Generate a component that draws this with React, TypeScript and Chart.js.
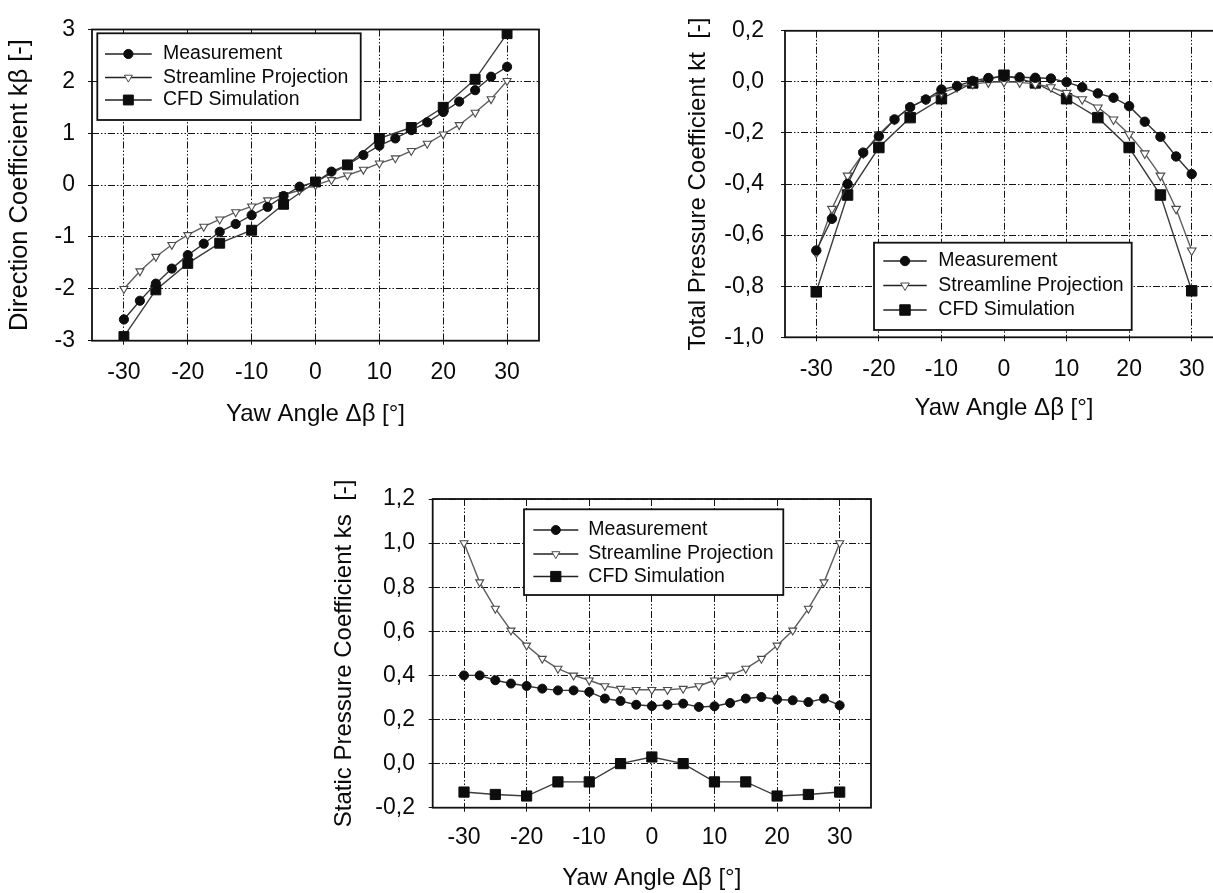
import React, { useEffect, useRef } from "react";
import { Chart, registerables } from "chart.js";

Chart.register(...registerables);

const FONT = '"Liberation Sans", Arial, Helvetica, sans-serif';

// ---------- data ----------
const yawAngles = [-30, -27.5, -25, -22.5, -20, -17.5, -15, -12.5, -10, -7.5, -5, -2.5, 0, 2.5, 5, 7.5, 10, 12.5, 15, 17.5, 20, 22.5, 25, 27.5, 30];
const cfdAngles = [-30, -25, -20, -15, -10, -5, 0, 5, 10, 15, 20, 25, 30];
const xTickValues = [-30, -20, -10, 0, 10, 20, 30];
const seriesNames = ["Measurement", "Streamline Projection", "CFD Simulation"];

// Direction coefficient k_beta
const kBetaMeasurement = [-2.59, -2.23, -1.90, -1.61, -1.35, -1.13, -0.90, -0.75, -0.58, -0.42, -0.21, -0.03, 0.06, 0.26, 0.39, 0.58, 0.76, 0.90, 1.06, 1.21, 1.41, 1.61, 1.83, 2.09, 2.28];
const kBetaStreamline = [-2.00, -1.66, -1.38, -1.15, -0.96, -0.80, -0.66, -0.52, -0.41, -0.29, -0.19, -0.10, 0.0, 0.10, 0.19, 0.30, 0.42, 0.52, 0.66, 0.80, 0.98, 1.16, 1.40, 1.66, 2.01];
const kBetaCfd = [-2.92, -2.02, -1.51, -1.12, -0.87, -0.37, 0.06, 0.39, 0.90, 1.11, 1.50, 2.04, 2.92];
const kBetaTicks = [-3, -2, -1, 0, 1, 2, 3];

// Total pressure coefficient k_t
const ktMeasurement = [-0.66, -0.536, -0.40, -0.277, -0.213, -0.147, -0.099, -0.069, -0.03, -0.016, 0.004, 0.015, 0.02, 0.018, 0.016, 0.013, -0.001, -0.021, -0.045, -0.062, -0.095, -0.156, -0.215, -0.292, -0.361];
const ktStreamline = [-0.67, -0.497, -0.367, -0.28, -0.205, -0.147, -0.10, -0.068, -0.043, -0.021, -0.008, -0.002, 0.0, -0.002, -0.008, -0.021, -0.043, -0.068, -0.10, -0.147, -0.205, -0.28, -0.367, -0.497, -0.66];
const ktCfd = [-0.822, -0.443, -0.257, -0.14, -0.066, -0.004, 0.026, -0.004, -0.066, -0.14, -0.257, -0.443, -0.818];
const ktTicks = [-1.0, -0.8, -0.6, -0.4, -0.2, 0.0, 0.2];

// Static pressure coefficient k_s
const ksMeasurement = [0.40, 0.40, 0.378, 0.363, 0.352, 0.34, 0.332, 0.332, 0.325, 0.295, 0.284, 0.267, 0.261, 0.267, 0.272, 0.257, 0.26, 0.275, 0.295, 0.302, 0.291, 0.287, 0.279, 0.295, 0.264];
const ksStreamline = [1.0, 0.823, 0.703, 0.604, 0.536, 0.476, 0.431, 0.40, 0.378, 0.352, 0.34, 0.335, 0.335, 0.335, 0.34, 0.352, 0.378, 0.40, 0.431, 0.476, 0.536, 0.604, 0.703, 0.823, 1.0];
const ksCfd = [-0.129, -0.14, -0.147, -0.083, -0.083, 0.0, 0.03, 0.0, -0.083, -0.083, -0.147, -0.14, -0.129];
const ksTicks = [-0.2, 0.0, 0.2, 0.4, 0.6, 0.8, 1.0, 1.2];

const xTitle = "Yaw Angle Δβ [°]";

// ---------- layout specs ----------
type Spec = {
  canvas: { left: number; top: number; width: number; height: number };
  area: { left: number; top: number; right: number; bottom: number };
  yMin: number; yMax: number; yTicks: number[]; comma: boolean; yTitle: string; yTitleSize: number;
  meas: number[]; stream: number[]; cfd: number[];
  yLabelRight: number; yTitleX: number; xLabelCenterY: number; xTitleY: number;
  legend: { left: number; top: number; right: number; bottom: number; lineX1: number; lineX2: number; textX: number; rows: number[] };
  rCircle: number; rSquare: number; rTri: number;
};

const specs: Spec[] = [
  {
    canvas: { left: 0, top: 0, width: 570, height: 430 },
    area: { left: 92, top: 29.5, right: 539, bottom: 340.7 },
    yMin: -3, yMax: 3, yTicks: kBetaTicks, comma: false, yTitle: "Direction Coefficient kβ [-]", yTitleSize: 25.5,
    meas: kBetaMeasurement, stream: kBetaStreamline, cfd: kBetaCfd,
    yLabelRight: 75, yTitleX: 20, xLabelCenterY: 373, xTitleY: 414,
    legend: { left: 97.3, top: 33.3, right: 360.7, bottom: 120, lineX1: 105, lineX2: 151.7, textX: 163, rows: [54, 77.5, 100] },
    rCircle: 4.6, rSquare: 7, rTri: 4.6,
  },
  {
    canvas: { left: 660, top: 0, width: 600, height: 430 },
    area: { left: 785, top: 29.3, right: 1223, bottom: 337.3 },
    yMin: -1.0, yMax: 0.2, yTicks: ktTicks, comma: true, yTitle: "Total Pressure Coefficient kt  [-]", yTitleSize: 24,
    meas: ktMeasurement, stream: ktStreamline, cfd: ktCfd,
    yLabelRight: 764, yTitleX: 698.6, xLabelCenterY: 370, xTitleY: 408.6,
    legend: { left: 874, top: 242.7, right: 1131.7, bottom: 330, lineX1: 883.3, lineX2: 926.7, textX: 938.3, rows: [261, 285.5, 310] },
    rCircle: 4.7, rSquare: 7.4, rTri: 5,
  },
  {
    canvas: { left: 320, top: 440, width: 570, height: 460 },
    area: { left: 432.7, top: 499, right: 871, bottom: 807.7 },
    yMin: -0.2, yMax: 1.2, yTicks: ksTicks, comma: true, yTitle: "Static Pressure Coefficient ks  [-]", yTitleSize: 24,
    meas: ksMeasurement, stream: ksStreamline, cfd: ksCfd,
    yLabelRight: 415, yTitleX: 344.6, xLabelCenterY: 838, xTitleY: 878.6,
    legend: { left: 524, top: 509.3, right: 783.3, bottom: 595, lineX1: 533.3, lineX2: 578.3, textX: 588.3, rows: [530, 554, 576.5] },
    rCircle: 4.5, rSquare: 7.2, rTri: 4.6,
  },
];

const TICK_LEN = 4;
const TICK_SIZE = 23;
const TITLE_SIZE = 24;
const LEGEND_SIZE = 19.5;
const GRID_DASH = [7, 2, 1.5, 2, 1.5, 2];
const GRID_COLOR = "rgba(0,0,0,0.92)";
const TEXT_COLOR = "#0a0a0a";

function drawMarker(ctx: CanvasRenderingContext2D, style: string, x: number, y: number, r: number, fill: string, stroke: string) {
  ctx.save();
  ctx.fillStyle = fill;
  ctx.strokeStyle = stroke;
  ctx.lineWidth = 1;
  ctx.setLineDash([]);
  ctx.beginPath();
  if (style === "circle") {
    ctx.arc(x, y, r, 0, Math.PI * 2);
  } else if (style === "rect") {
    const s = r * Math.SQRT1_2;
    ctx.rect(x - s, y - s, 2 * s, 2 * s);
  } else {
    let rad = Math.PI;
    ctx.moveTo(x + Math.sin(rad) * r, y - Math.cos(rad) * r);
    rad += (2 * Math.PI) / 3;
    ctx.lineTo(x + Math.sin(rad) * r, y - Math.cos(rad) * r);
    rad += (2 * Math.PI) / 3;
    ctx.lineTo(x + Math.sin(rad) * r, y - Math.cos(rad) * r);
    ctx.closePath();
  }
  ctx.fill();
  ctx.stroke();
  ctx.restore();
}

function Panel({ spec }: { spec: Spec }) {
  const ref = useRef<HTMLCanvasElement>(null);

  useEffect(() => {
    if (!ref.current) return;
    const c = spec.canvas;
    const a = spec.area;
    const yAxisWidth = a.left - c.left;
    const xAxisHeight = c.top + c.height - a.bottom;
    const padTop = a.top - c.top;
    const padRight = c.left + c.width - a.right;
    const tickLH = TICK_SIZE * 1.2;
    const titleLH = TITLE_SIZE * 1.2;
    const yTitleLH = spec.yTitleSize * 1.2;
    const yLabelPad = a.left - spec.yLabelRight - TICK_LEN;
    const xLabelPad = spec.xLabelCenterY - a.bottom - TICK_LEN - tickLH / 2;
    const yTitlePad = spec.yTitleX - c.left - yTitleLH / 2;
    const xTitlePad = c.top + c.height - titleLH / 2 - spec.xTitleY;
    const fmt = (v: number) => (spec.comma ? v.toFixed(1).replace(".", ",") : String(Math.round(v)));

    const framePlugin = {
      id: "frame",
      afterDatasetsDraw(chart: any) {
        const { ctx, chartArea: ca } = chart;
        ctx.save();
        ctx.strokeStyle = "#111111";
        ctx.lineWidth = 1.8;
        ctx.setLineDash([]);
        ctx.strokeRect(ca.left, ca.top, ca.right - ca.left, ca.bottom - ca.top);
        ctx.restore();
      },
    };

    const legendPlugin = {
      id: "boxLegend",
      afterDraw(chart: any) {
        const ctx: CanvasRenderingContext2D = chart.ctx;
        const L = spec.legend;
        const ox = c.left;
        const oy = c.top;
        ctx.save();
        ctx.fillStyle = "#ffffff";
        ctx.fillRect(L.left - ox, L.top - oy, L.right - L.left, L.bottom - L.top);
        ctx.strokeStyle = "#111111";
        ctx.lineWidth = 1.8;
        ctx.strokeRect(L.left - ox, L.top - oy, L.right - L.left, L.bottom - L.top);
        chart.data.datasets.forEach((ds: any, i: number) => {
          const y = L.rows[i] - oy;
          ctx.strokeStyle = "#222222";
          ctx.lineWidth = 1.5;
          ctx.beginPath();
          ctx.moveTo(L.lineX1 - ox, y);
          ctx.lineTo(L.lineX2 - ox, y);
          ctx.stroke();
          const mx = (L.lineX1 + L.lineX2) / 2 - ox;
          drawMarker(ctx, ds.pointStyle, mx, y, ds.pointRadius, ds.pointBackgroundColor, ds.pointBorderColor);
          ctx.fillStyle = TEXT_COLOR;
          ctx.font = `${LEGEND_SIZE}px ${FONT}`;
          ctx.textBaseline = "middle";
          ctx.textAlign = "left";
          ctx.fillText(ds.label, L.textX - ox, y);
        });
        ctx.restore();
      },
    };

    const chart = new Chart(ref.current, {
      type: "line",
      data: {
        datasets: [
          {
            label: seriesNames[0],
            data: yawAngles.map((x, i) => ({ x, y: spec.meas[i] })),
            borderColor: "#333333",
            borderWidth: 1.4,
            pointStyle: "circle",
            pointRadius: spec.rCircle,
            pointBackgroundColor: "#0d0d0d",
            pointBorderColor: "#0d0d0d",
            pointBorderWidth: 1,
            tension: 0,
          },
          {
            label: seriesNames[1],
            data: yawAngles.map((x, i) => ({ x, y: spec.stream[i] })),
            borderColor: "#5e5e5e",
            borderWidth: 1.4,
            pointStyle: "triangle",
            pointRotation: 180,
            pointRadius: spec.rTri,
            pointBackgroundColor: "#ffffff",
            pointBorderColor: "#4a4a4a",
            pointBorderWidth: 1.1,
            tension: 0,
          },
          {
            label: seriesNames[2],
            data: cfdAngles.map((x, i) => ({ x, y: spec.cfd[i] })),
            borderColor: "#3c3c3c",
            borderWidth: 1.4,
            pointStyle: "rect",
            pointRadius: spec.rSquare,
            pointBackgroundColor: "#0d0d0d",
            pointBorderColor: "#0d0d0d",
            pointBorderWidth: 1,
            tension: 0,
          },
        ] as any,
      },
      options: {
        responsive: false,
        animation: false,
        layout: { padding: { left: 0, top: padTop, right: padRight, bottom: 0 } },
        plugins: { legend: { display: false }, tooltip: { enabled: false } },
        scales: {
          x: {
            type: "linear",
            min: -35,
            max: 35,
            afterBuildTicks: (s: any) => {
              s.ticks = xTickValues.map((v) => ({ value: v }));
            },
            afterFit: (s: any) => {
              s.height = xAxisHeight;
            },
            grid: { color: GRID_COLOR, lineWidth: 1, drawTicks: true, tickLength: TICK_LEN, tickColor: "#111" },
            border: { display: false, dash: GRID_DASH },
            ticks: {
              font: { family: FONT, size: TICK_SIZE },
              color: TEXT_COLOR,
              padding: xLabelPad,
              maxRotation: 0,
              autoSkip: false,
              callback: (v: any) => String(v),
            },
            title: {
              display: true,
              text: xTitle,
              font: { family: FONT, size: TITLE_SIZE },
              color: TEXT_COLOR,
              padding: { top: 0, bottom: xTitlePad },
            },
          },
          y: {
            type: "linear",
            min: spec.yMin,
            max: spec.yMax,
            afterBuildTicks: (s: any) => {
              s.ticks = spec.yTicks.map((v) => ({ value: v }));
            },
            afterFit: (s: any) => {
              s.width = yAxisWidth;
            },
            grid: { color: GRID_COLOR, lineWidth: 1, drawTicks: true, tickLength: TICK_LEN, tickColor: "#111" },
            border: { display: false, dash: GRID_DASH },
            ticks: {
              font: { family: FONT, size: TICK_SIZE },
              color: TEXT_COLOR,
              padding: yLabelPad,
              autoSkip: false,
              callback: (v: any) => fmt(Number(v)),
            },
            title: {
              display: true,
              text: spec.yTitle,
              font: { family: FONT, size: spec.yTitleSize },
              color: TEXT_COLOR,
              padding: { top: yTitlePad, bottom: 0 },
            },
          },
        },
      } as any,
      plugins: [framePlugin, legendPlugin],
    });

    return () => chart.destroy();
  }, [spec]);

  return (
    <canvas
      ref={ref}
      width={spec.canvas.width}
      height={spec.canvas.height}
      style={{ position: "absolute", left: spec.canvas.left, top: spec.canvas.top, width: spec.canvas.width, height: spec.canvas.height }}
    />
  );
}

export default function App() {
  return (
    <div style={{ position: "absolute", left: 0, top: 0, width: 1213, height: 893, overflow: "hidden", background: "#ffffff" }}>
      {specs.map((s, i) => (
        <Panel key={i} spec={s} />
      ))}
    </div>
  );
}
